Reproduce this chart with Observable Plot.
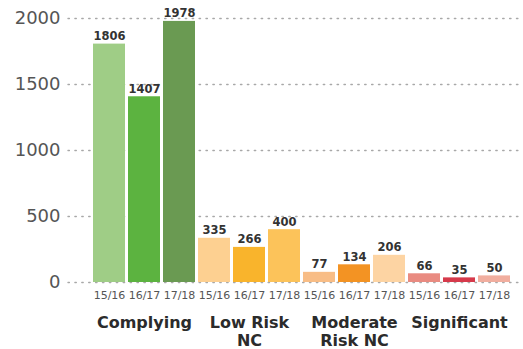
<!DOCTYPE html>
<html>
<head>
<meta charset="utf-8">
<script src="https://cdn.jsdelivr.net/npm/d3@7"></script>
<script src="https://cdn.jsdelivr.net/npm/@observablehq/plot@0.6"></script>
<style>
  html, body { margin: 0; padding: 0; background: #fff; }
  svg { font-family: "DejaVu Sans", sans-serif; }
</style>
</head>
<body>
<div id="chart"></div>
<script>
const categories = ["Complying", "Low Risk\nNC", "Moderate\nRisk NC", "Significant"];
const years = ["15/16", "16/17", "17/18"];
const complying = [1806, 1407, 1978];
const lowRisk = [335, 266, 400];
const moderateRisk = [77, 134, 206];
const significant = [66, 35, 50];
const colors = [
  "#9fcd86", "#5cb340", "#6a9a52",
  "#fdd091", "#f9b42c", "#fcc35a",
  "#f8bd86", "#f39323", "#fdd4a3",
  "#e98b81", "#d63a4b", "#f1ae9f"
];
const yTicks = [0, 500, 1000, 1500, 2000];

const series = [complying, lowRisk, moderateRisk, significant];
const data = [];
categories.forEach((c, i) => years.forEach((y, j) => {
  data.push({category: c, year: y, key: c + "|" + y, value: series[i][j]});
}));
const keys = data.map(d => d.key);
const catLabels = categories.map(c => ({label: c, key: c + "|" + years[1]}));

const chart = Plot.plot({
  width: 523,
  height: 349,
  marginTop: 18,
  marginBottom: 67,
  marginLeft: 89,
  marginRight: 9,
  style: {fontFamily: "DejaVu Sans, sans-serif", background: "#fff"},
  x: {domain: keys, padding: 0.1, axis: null},
  y: {domain: [0, 2000], axis: null},
  color: {domain: keys, range: colors},
  marks: [
    Plot.ruleY(yTicks, {stroke: "#a8a8a8", strokeWidth: 1.4, strokeDasharray: "1.4,5.5", strokeLinecap: "round", insetLeft: -21, insetRight: -9}),
    Plot.barY(data, {x: "key", y: "value", fill: "key"}),
    Plot.text(data, {x: "key", y: "value", text: d => String(d.value), lineAnchor: "bottom", dy: -4, fontSize: 11.5, fontWeight: "bold", fill: "#333"}),
    Plot.axisY({ticks: yTicks, tickFormat: "d", label: null, tickSize: 0, tickPadding: 29, fontSize: 18, fill: "#555"}),
    Plot.axisX({label: null, tickSize: 0, tickPadding: 9, fontSize: 11, fill: "#555", tickFormat: d => d.split("|")[1]}),
    Plot.text(catLabels, {x: "key", y: () => 0, text: "label", lineAnchor: "top", dy: 32, fontSize: 16, fontWeight: "bold", fill: "#2b2b2b", lineHeight: 1.15})
  ]
});
document.getElementById("chart").appendChild(chart);
</script>
</body>
</html>
